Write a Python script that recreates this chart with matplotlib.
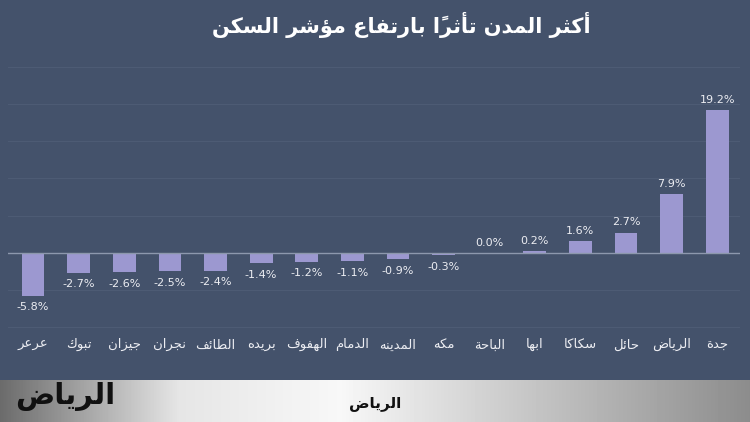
import numpy as np
import matplotlib
matplotlib.use("Agg")
import matplotlib.pyplot as plt

# data, left to right as in the picture
cities = ["عرعر", "تبوك", "جيزان", "نجران", "الطائف", "بريده", "الهفوف", "الدمام",
          "المدينه", "مكه", "الباحة", "ابها", "سكاكا", "حائل", "الرياض", "جدة"]
values = [-5.8, -2.7, -2.6, -2.5, -2.4, -1.4, -1.2, -1.1,
          -0.9, -0.3, 0.0, 0.2, 1.6, 2.7, 7.9, 19.2]
title = "أكثر المدن تأثراً بارتفاع مؤشر السكن"
logo = "الرياض"

# minimal arabic shaping (no reshaper lib available): iso, fin, ini, med
FORMS = {
    "ا": (0xFE8D, 0xFE8E, None, None), "أ": (0xFE83, 0xFE84, None, None),
    "ؤ": (0xFE85, 0xFE86, None, None), "ئ": (0xFE89, 0xFE8A, 0xFE8B, 0xFE8C),
    "ب": (0xFE8F, 0xFE90, 0xFE91, 0xFE92), "ة": (0xFE93, 0xFE94, None, None),
    "ت": (0xFE95, 0xFE96, 0xFE97, 0xFE98), "ث": (0xFE99, 0xFE9A, 0xFE9B, 0xFE9C),
    "ج": (0xFE9D, 0xFE9E, 0xFE9F, 0xFEA0), "ح": (0xFEA1, 0xFEA2, 0xFEA3, 0xFEA4),
    "د": (0xFEA9, 0xFEAA, None, None), "ر": (0xFEAD, 0xFEAE, None, None),
    "ز": (0xFEAF, 0xFEB0, None, None), "س": (0xFEB1, 0xFEB2, 0xFEB3, 0xFEB4),
    "ش": (0xFEB5, 0xFEB6, 0xFEB7, 0xFEB8), "ض": (0xFEBD, 0xFEBE, 0xFEBF, 0xFEC0),
    "ط": (0xFEC1, 0xFEC2, 0xFEC3, 0xFEC4), "ع": (0xFEC9, 0xFECA, 0xFECB, 0xFECC),
    "ف": (0xFED1, 0xFED2, 0xFED3, 0xFED4), "ك": (0xFED9, 0xFEDA, 0xFEDB, 0xFEDC),
    "ل": (0xFEDD, 0xFEDE, 0xFEDF, 0xFEE0), "م": (0xFEE1, 0xFEE2, 0xFEE3, 0xFEE4),
    "ن": (0xFEE5, 0xFEE6, 0xFEE7, 0xFEE8), "ه": (0xFEE9, 0xFEEA, 0xFEEB, 0xFEEC),
    "و": (0xFEED, 0xFEEE, None, None), "ي": (0xFEF1, 0xFEF2, 0xFEF3, 0xFEF4),
}
MARKS = {"\u064B"}


def shape(word):
    letters = [c for c in word if c not in MARKS]
    marks = {}
    j = -1
    for c in word:
        if c in MARKS:
            marks[j] = marks.get(j, "") + c
        else:
            j += 1
    out = []
    for i, c in enumerate(letters):
        f = FORMS.get(c)
        if f is None:
            out.append(c)
            continue
        prev = FORMS.get(letters[i - 1]) if i > 0 else None
        nxt = FORMS.get(letters[i + 1]) if i + 1 < len(letters) else None
        join_prev = prev is not None and prev[2] is not None
        join_next = nxt is not None and f[2] is not None
        if join_prev and join_next:
            g = f[3]
        elif join_prev:
            g = f[1]
        elif join_next:
            g = f[2]
        else:
            g = f[0]
        out.append(chr(g))
    # visual order: reverse, marks drawn after their base
    vis = []
    for i in range(len(out) - 1, -1, -1):
        vis.append(out[i])
        if i in marks:
            vis.append(marks[i])
    return "".join(vis)


def ar(text):
    return " ".join(shape(w) for w in reversed(text.split(" ")))


bg = "#44526b"
bar_col = "#9c98d0"
txt = "#ecedf2"

fig = plt.figure(figsize=(7.5, 4.22), dpi=100, facecolor=bg)
# y from -10.2 to 25.2 so the edge gridlines still show
ax = fig.add_axes([8 / 750, 1 - 328.5 / 422, 732 / 750, (328.5 - 65.5) / 422])
ax.set_facecolor(bg)

x = np.arange(len(cities))
ax.bar(x, values, width=0.5, color=bar_col, zorder=3)
ax.set_xlim(-0.55, 15.5)
ax.set_ylim(-10.2, 25.2)
for s in ax.spines.values():
    s.set_visible(False)
ax.set_xticks([])
ax.set_yticks([-10, -5, 0, 5, 10, 15, 20, 25])
ax.tick_params(left=False, labelleft=False)
ax.grid(axis="y", color="#4d5b74", lw=0.8, zorder=0)
ax.axhline(0, color="#8d98ad", lw=1.0, zorder=4)

for xi, v in zip(x, values):
    if v >= 0:
        ax.text(xi, v + 0.7, f"{v:.1f}%", ha="center", va="bottom",
                color=txt, fontsize=8, family="DejaVu Sans")
    else:
        ax.text(xi, v - 0.9, f"{v:.1f}%", ha="center", va="top",
                color=txt, fontsize=8, family="DejaVu Sans")

for xi, c in zip(x, cities):
    ax.text(xi, -12.4, ar(c), ha="center", va="center", color=txt,
            fontsize=9.5, family="DejaVu Sans")

fig.text(0.535, 1 - 25 / 422, ar(title), ha="center", va="center",
         color="white", fontsize=15, fontweight="bold", family="DejaVu Sans")

# bottom band with grey gradient
band = fig.add_axes([0, 0, 1, 42 / 422])
grad = np.concatenate([np.linspace(0.42, 0.9, 180), np.linspace(0.9, 0.97, 160),
                       np.linspace(0.97, 0.55, 410)])
band.imshow(np.tile(grad, (2, 1)), cmap="gray", vmin=0, vmax=1, aspect="auto",
            extent=[0, 1, 0, 1])
band.set_xlim(0, 1)
band.set_ylim(0, 1)
band.axis("off")
band.text(65 / 750, 0.6, ar(logo), ha="center", va="center", color="#111111",
          fontsize=21, fontweight="bold", family="DejaVu Sans")
band.text(375 / 750, 0.45, ar(logo), ha="center", va="center", color="#111111",
          fontsize=11, fontweight="bold", family="DejaVu Sans")

fig.savefig("out.png", dpi=100, facecolor=bg)
